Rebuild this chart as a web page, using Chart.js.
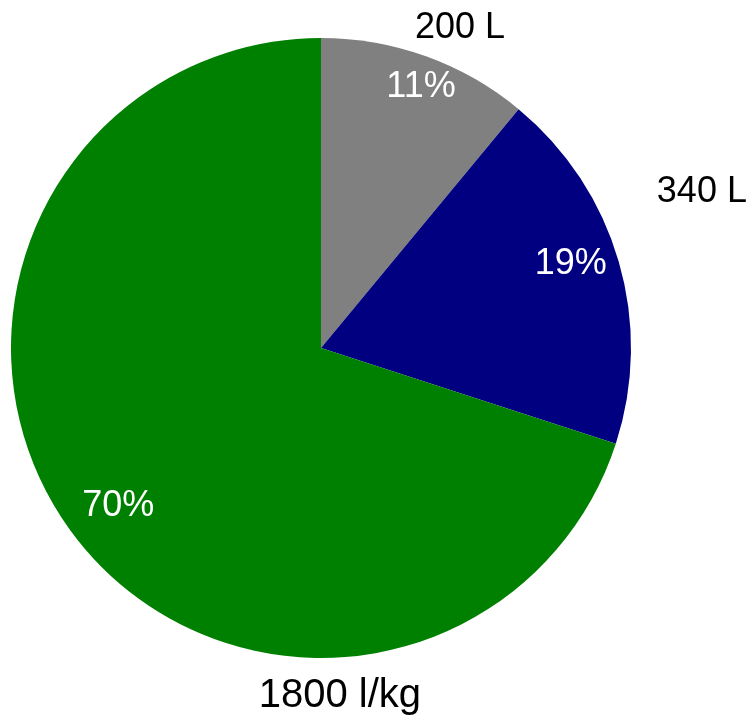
<!DOCTYPE html>
<html>
<head>
<meta charset="utf-8">
<script src="https://cdn.jsdelivr.net/npm/chart.js@4"></script>
<style>
  html, body { margin: 0; padding: 0; background: #fff; }
  #wrap { width: 755px; height: 724px; }
</style>
</head>
<body>
<div id="wrap"><canvas id="grafico"></canvas></div>
<script>
// dados
const rotulos = ['200 L', '340 L', '1800 l/kg'];
const percentuais = [11, 19, 70];
const cores = ['#808080', '#000080', '#008000'];

// posicao dos textos (angulo em graus a partir do topo, distancia em fracao do raio)
const ang_interno = [21, 71.4, 232];
const dist_interno = [0.9, 0.85, 0.83];
const ang_externo = [23.5, 67.7, 176.9];
const dist_externo = [1.125, 1.328, 1.124];
const fonte_externo = [36, 36, 40];

const rotulos_plugin = {
    id: 'rotulos_plugin',
    afterDatasetsDraw(chart){
        const ctx = chart.ctx;
        const arcos = chart.getDatasetMeta(0).data;
        ctx.save();
        ctx.textAlign = 'center';
        ctx.textBaseline = 'middle';
        arcos.forEach(function(arco, i){
            const cx = arco.x, cy = arco.y, r = arco.outerRadius;
            let a = ang_interno[i] * Math.PI / 180;
            ctx.font = '36px "Liberation Sans", Arial, sans-serif';
            ctx.fillStyle = '#ffffff';
            ctx.fillText(percentuais[i] + '%', cx + dist_interno[i] * r * Math.sin(a), cy - dist_interno[i] * r * Math.cos(a));
            a = ang_externo[i] * Math.PI / 180;
            ctx.font = fonte_externo[i] + 'px "Liberation Sans", Arial, sans-serif';
            ctx.fillStyle = '#000000';
            ctx.fillText(rotulos[i], cx + dist_externo[i] * r * Math.sin(a), cy - dist_externo[i] * r * Math.cos(a));
        });
        ctx.restore();
    }
};

const ctx = document.getElementById('grafico').getContext('2d');
const myChart = new Chart(ctx, {
    type: 'pie',
    data: {
        labels: rotulos,
        datasets: [{
            data: percentuais,
            backgroundColor: cores,
            borderWidth: 0
        }]
    },
    options: {
        responsive: true,
        maintainAspectRatio: false,
        animation: false,
        layout: {
            padding: { left: 11, right: 124, top: 38, bottom: 66 }
        },
        plugins: {
            legend: { display: false },
            tooltip: { enabled: false }
        }
    },
    plugins: [rotulos_plugin]
});
</script>
</body>
</html>
